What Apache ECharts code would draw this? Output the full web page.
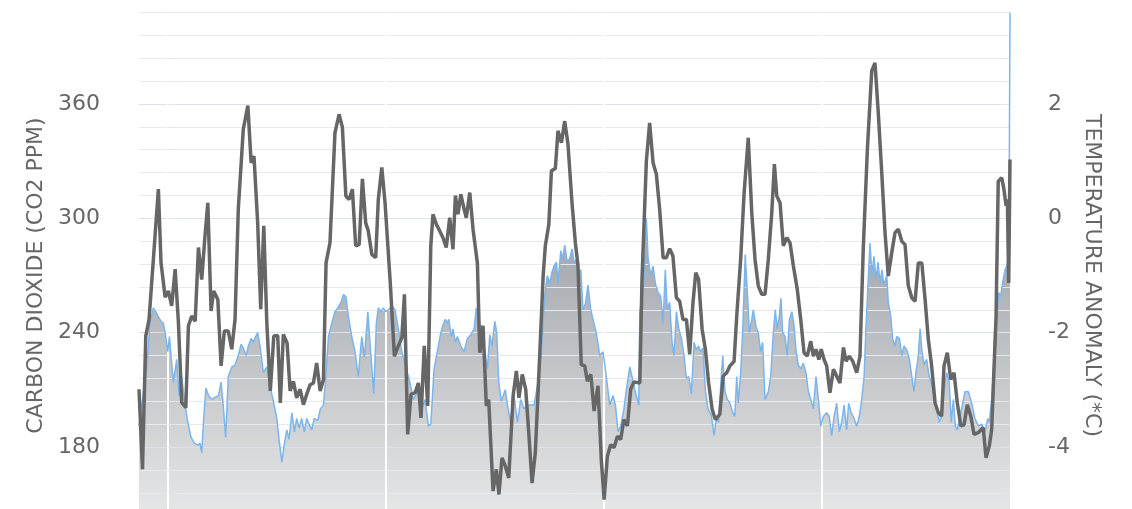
<!DOCTYPE html>
<html><head><meta charset="utf-8">
<script src="https://cdn.jsdelivr.net/npm/echarts/dist/echarts.min.js"></script>
<style>html,body{margin:0;padding:0;background:#fff}#c{width:1132px;height:509px}</style>
</head><body><div id="c"></div>
<script>
// Age in thousands of years before present
const co2Age = [400.0,396.4,395.0,393.4,392.3,391.4,389.9,388.8,387.7,386.8,
386.0,385.3,384.2,382.7,381.6,380.4,379.2,377.6,376.1,374.6,
373.0,372.0,371.2,370.4,369.3,368.1,366.6,365.1,363.5,362.3,
361.4,360.2,359.0,357.4,355.9,354.4,353.1,352.1,350.8,349.8,
348.5,347.5,346.4,345.5,344.4,342.9,341.3,339.8,338.3,336.7,
335.7,334.4,333.2,332.1,331.1,329.8,328.6,327.6,326.5,325.3,
324.1,323.0,321.9,320.7,319.5,317.9,316.7,315.3,314.2,313.0,
311.5,310.0,308.7,307.2,306.1,305.0,303.9,302.3,300.8,299.3,
297.7,296.5,294.9,293.7,292.2,291.0,290.1,288.8,287.8,286.7,
285.5,283.9,282.4,280.9,279.3,277.5,276.0,274.0,272.0,270.1,
268.6,267.1,266.0,264.5,263.0,261.4,260.4,259.3,258.4,257.7,
256.6,255.8,254.7,253.8,252.2,250.7,249.2,247.6,246.1,245.1,
244.0,242.8,241.2,240.0,238.9,237.9,236.6,235.7,234.8,233.6,
231.8,230.5,229.3,227.8,226.2,224.7,223.2,221.7,220.1,218.6,
217.5,216.0,214.9,213.7,212.5,211.4,210.3,209.4,208.3,207.6,
206.3,205.3,204.5,203.3,202.2,201.1,200.2,199.2,198.4,197.1,
196.1,195.0,193.8,192.5,191.5,190.0,188.4,186.9,185.4,183.8,
182.3,181.2,180.0,178.8,177.3,176.2,174.6,173.6,172.3,171.6,
170.5,170.0,169.3,168.1,167.0,166.2,165.0,163.9,162.9,161.6,
160.4,159.3,158.3,157.4,156.3,155.2,154.3,153.2,152.1,150.9,
149.7,148.6,147.5,146.3,145.1,144.1,143.0,142.0,141.0,139.9,
138.7,137.2,135.9,134.9,133.8,132.6,131.9,130.9,129.8,128.6,
127.3,126.4,125.5,124.8,123.7,122.7,121.6,120.6,119.7,118.6,
117.9,116.6,115.6,114.5,113.6,112.5,111.0,109.9,108.7,107.8,
106.9,105.9,105.2,104.4,103.3,102.3,101.3,100.2,99.2,98.3,
97.2,96.1,94.9,93.7,92.6,91.5,90.3,89.1,88.0,86.9,
85.7,84.2,83.0,81.9,80.8,79.6,78.4,77.3,76.2,75.0,
74.1,72.9,71.6,70.4,69.2,68.1,67.0,66.1,65.1,64.3,
63.4,62.5,61.5,60.6,59.7,58.8,57.9,56.6,55.9,54.8,
53.9,52.9,52.0,50.8,49.7,48.7,47.4,46.2,45.1,44.1,
43.2,42.1,41.3,40.4,39.5,38.3,37.1,35.8,34.6,33.4,
32.5,31.4,30.3,29.1,27.9,27.0,26.0,25.1,24.2,23.0,
21.7,20.7,19.1,17.6,16.1,14.6,13.0,11.5,10.2,9.5,
8.4,7.3,6.1,5.2,4.3,3.4,2.3,1.5,0.8,0.3,0];

const co2Ppm = [191,222,245,253,251,249,246,245,238,230,
238,228,214,226,207,217,205,193,185,182,
181,182,177,193,211,207,205,206,207,214,
203,185,217,222,223,228,234,232,228,233,
237,235,238,240,233,219,222,212,204,195,
184,172,182,189,184,198,188,195,190,195,
188,195,192,189,195,194,200,202,217,238,
245,251,253,256,260,259,249,238,230,217,
238,227,251,231,208,245,253,251,253,251,
252,254,252,242,230,222,216,205,209,200,
205,191,192,221,230,240,244,247,245,247,
238,242,235,238,233,230,237,239,242,253,
240,244,230,221,239,233,246,240,214,204,
210,200,193,207,193,205,200,202,202,202,
209,219,237,259,270,266,272,275,277,266,
283,279,286,277,279,284,277,278,271,273,
252,255,265,252,247,240,228,230,217,202,
207,202,188,191,200,210,222,217,210,207,
202,251,256,266,300,279,270,275,266,261,
259,245,273,252,256,235,228,251,242,237,
228,216,217,208,235,231,233,230,232,210,
200,197,186,195,193,217,228,209,205,203,
198,196,217,203,219,242,281,261,240,247,
252,243,240,230,235,205,209,217,240,252,
242,249,258,240,238,228,247,251,244,231,
223,221,224,219,209,205,200,217,205,191,
196,198,196,186,196,203,188,193,202,189,
203,198,195,191,196,205,217,244,268,287,
270,280,268,277,266,273,265,270,256,249,
237,233,238,237,228,233,231,226,217,209,
219,228,242,230,223,226,217,212,205,198,
193,196,209,219,214,193,205,191,189,196,
203,209,209,203,195,191,192,188,195,193,
205,226,247,261,259,266,273,275,279,331,408];

const tempAge = [400.0,398.4,396.9,395.4,393.4,391.1,389.9,388.0,386.5,385.0,
383.4,381.9,380.4,378.5,377.3,375.8,374.2,372.7,371.2,369.7,
368.4,366.9,365.7,363.8,362.3,360.8,359.0,357.4,355.9,354.4,
352.1,350.0,348.5,347.2,345.5,344.1,342.7,341.3,339.7,338.1,
336.3,335.1,333.7,332.0,330.6,329.1,327.6,326.0,324.5,323.0,
321.4,319.9,318.4,316.8,315.3,314.1,312.3,310.0,308.1,306.6,
305.0,303.5,302.0,300.5,298.9,297.4,295.9,294.7,293.1,291.3,
290.1,288.5,287.0,284.7,282.7,280.9,279.3,278.1,276.6,275.1,
273.2,271.7,270.5,269.0,267.4,266.0,265.0,263.4,261.9,260.4,
258.9,257.3,255.8,254.7,253.5,252.2,250.7,249.7,248.1,246.6,
244.6,243.5,242.0,240.5,239.4,237.4,235.9,234.7,233.3,231.8,
230.2,228.2,226.7,225.5,224.0,222.4,220.9,219.5,218.0,216.0,
214.4,213.4,211.8,210.6,208.8,207.6,206.0,204.5,203.0,201.1,
199.6,198.4,196.9,195.3,194.1,192.5,191.0,189.2,187.7,186.4,
184.9,183.4,181.8,180.3,178.8,177.3,175.7,174.2,172.7,170.0,
169.0,167.0,165.5,163.9,162.4,160.9,159.3,157.8,156.3,154.8,
153.2,151.7,150.2,148.6,147.1,145.6,144.3,143.0,141.4,139.9,
138.4,136.8,135.3,133.3,131.7,130.1,128.6,126.7,125.5,123.7,
122.1,120.2,118.6,117.1,115.6,114.0,112.5,111.0,109.4,108.2,
107.1,105.6,104.1,102.5,101.0,99.5,97.7,96.1,94.6,93.1,
91.5,90.3,89.1,87.8,86.7,85.4,84.2,82.7,81.1,79.6,
78.1,76.5,75.3,73.8,72.2,70.4,68.9,67.4,65.5,63.5,
62.0,60.5,58.9,57.4,55.9,54.3,52.8,51.3,49.7,48.2,
46.7,45.1,43.6,42.1,40.5,39.0,37.5,36.0,34.4,32.9,
31.4,30.3,28.8,27.2,25.7,24.2,22.6,21.1,19.6,18.0,
16.5,14.6,12.3,11.0,9.5,8.4,7.3,6.4,5.4,3.8,
2.8,1.8,1.2,0.6,0];

const tempAnomaly = [-2.99,-4.39,-2.06,-1.77,-0.72,0.51,-0.77,-1.38,-1.27,-1.53,
-0.89,-1.82,-3.22,-3.31,-1.88,-1.71,-1.80,-0.51,-1.07,-0.31,
0.27,-1.62,-1.27,-1.42,-2.58,-1.97,-1.97,-2.29,-1.77,0.16,
1.56,1.97,0.97,1.09,-0.08,-1.59,-0.13,-1.83,-3.02,-2.06,
-2.05,-3.23,-2.03,-2.18,-3.02,-2.85,-3.14,-2.99,-3.26,-3.08,
-2.91,-2.88,-2.53,-3.02,-2.82,-0.78,-0.43,1.50,1.82,1.59,
0.39,0.33,0.51,-0.48,-0.46,0.69,-0.08,-0.22,-0.63,-0.69,
0.33,0.89,0.27,-1.07,-2.41,-2.23,-2.09,-1.33,-3.78,-3.08,
-3.05,-2.88,-3.49,-2.23,-3.28,-0.48,0.07,-0.11,-0.22,-0.34,
-0.51,0.01,-0.54,0.40,0.07,0.42,0.16,0.01,0.45,-0.19,
-0.78,-2.35,-1.88,-3.28,-3.17,-4.77,-4.39,-4.83,-4.19,-4.33,
-4.54,-3.11,-2.67,-3.14,-2.73,-2.99,-3.81,-4.63,-4.10,-2.41,
-1.01,-0.48,-0.11,0.83,0.87,1.53,1.32,1.70,1.30,0.25,
-0.43,-0.83,-2.56,-2.58,-2.85,-2.73,-3.37,-2.93,-4.22,-4.92,
-4.16,-3.96,-4.01,-3.81,-3.87,-3.52,-3.63,-2.99,-2.86,-2.88,
-1.07,1.00,1.67,0.97,0.77,0.16,-0.69,-0.69,-0.53,-0.66,
-1.39,-1.45,-1.77,-1.77,-2.38,-1.48,-0.95,-1.07,-1.94,-2.29,
-2.88,-3.34,-3.52,-3.43,-2.76,-2.70,-2.58,-2.50,-1.71,-0.72,
0.45,1.41,0.10,-0.72,-1.18,-1.33,-1.33,-0.72,0.10,0.95,
0.39,0.27,-0.48,-0.34,-0.43,-0.83,-1.24,-1.77,-2.35,-2.41,
-2.15,-2.41,-2.29,-2.47,-2.29,-2.47,-2.58,-3.05,-2.64,-2.76,
-2.88,-2.26,-2.50,-2.41,-2.50,-2.70,-2.41,-0.54,1.21,2.58,
2.72,1.85,0.80,-0.25,-1.01,-0.60,-0.25,-0.19,-0.40,-0.46,
-1.18,-1.39,-1.45,-0.78,-0.78,-1.42,-2.12,-2.58,-3.23,-3.40,
-3.46,-2.58,-2.35,-2.82,-2.70,-3.23,-3.63,-3.61,-3.26,-3.46,
-3.78,-3.75,-3.66,-4.19,-3.98,-3.69,-2.58,-1.71,0.65,0.71,
0.51,0.22,0.33,-1.13,1.03];

const co2Labels = [180, 240, 300, 360];
const tempLabels = [-4, -2, 0, 2];
const leftTitle = 'CARBON DIOXIDE (CO2 PPM)';
const rightTitle = 'TEMPERATURE ANOMALY (*C)';

const co2Data = co2Age.map((a, i) => [a, co2Ppm[i]]);
const tempData = tempAge.map((a, i) => [a, tempAnomaly[i]]);

const textColor = '#666666';
const fontFamily = 'DejaVu Sans';
const gMain = '#dde2e8', gMinor = '#e7eaee', tickColor = '#e6e6e6';

const chart = echarts.init(document.getElementById('c'), null, {renderer: 'canvas'});
chart.setOption({
  animation: false,
  backgroundColor: '#ffffff',
  grid: {left: 139, right: 122, top: 12.5, height: 526, containLabel: false, outerBoundsMode: 'none'},
  xAxis: [
    {type: 'value', inverse: true, min: 0, max: 400, show: false},
    {type: 'value', min: -13.4, max: 386.6, splitNumber: 4, z: 2,
     axisLine: {show: false}, axisTick: {show: false}, axisLabel: {show: false},
     splitLine: {show: true, showMinLine: false, showMaxLine: false,
                 lineStyle: {color: '#ffffff', width: 2}}}
  ],
  yAxis: [
    {type: 'value', position: 'left', min: 132, max: 408, interval: 12, z: 2,
     name: leftTitle, nameLocation: 'middle', nameGap: 90,
     nameTextStyle: {color: textColor, fontSize: 22, fontFamily},
     axisLine: {show: false},
     axisTick: {show: true, length: 9, lineStyle: {color: tickColor, width: 1}},
     axisLabel: {margin: 39, color: textColor, fontSize: 22, fontFamily,
                 formatter: v => co2Labels.indexOf(Math.round(v)) >= 0 ? String(Math.round(v)) : ''},
     splitLine: {show: true, lineStyle: {color: [gMinor, gMinor, gMinor, gMinor, gMain], width: 1}}},
    {type: 'value', position: 'right', min: -5.6, max: 3.6, interval: 0.4, z: 2,
     name: rightTitle, nameLocation: 'middle', nameGap: 70, nameRotate: -90,
     nameTextStyle: {color: textColor, fontSize: 22, fontFamily},
     axisLine: {show: false},
     axisTick: {show: true, length: 9, lineStyle: {color: tickColor, width: 1}},
     axisLabel: {margin: 38, color: textColor, fontSize: 22, fontFamily,
                 formatter: v => { const r = Math.round(v * 10) / 10; return tempLabels.indexOf(r) >= 0 ? String(r) : ''; }},
     splitLine: {show: false}}
  ],
  series: [
    {type: 'line', name: 'CO2 area', data: co2Data, xAxisIndex: 0, yAxisIndex: 0, z: 1,
     showSymbol: false, symbol: 'none', silent: true,
     lineStyle: {width: 0, opacity: 0},
     areaStyle: {opacity: 1, color: new echarts.graphic.LinearGradient(0, 0, 0, 1, [
       {offset: 0, color: 'rgb(108,116,126)'}, {offset: 1, color: 'rgb(236,236,236)'}])}},
    {type: 'line', name: 'CO2', data: co2Data, xAxisIndex: 0, yAxisIndex: 0, z: 3,
     showSymbol: false, symbol: 'none',
     lineStyle: {color: '#7cb5ec', width: 1.5}},
    {type: 'line', name: 'Temperature', data: tempData, xAxisIndex: 0, yAxisIndex: 1, z: 4,
     showSymbol: false, symbol: 'none',
     lineStyle: {color: '#666666', width: 3.5}}
  ]
});
</script>
</body></html>
